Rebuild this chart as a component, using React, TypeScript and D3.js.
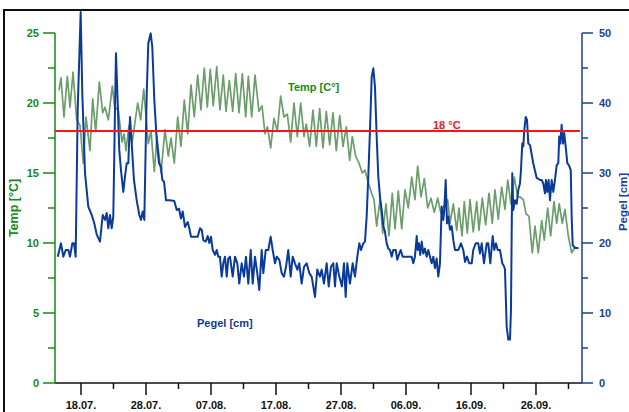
import React from "react";
import * as d3 from "d3";

const START = Date.UTC(2019, 6, 14);
const DAY = 86400000;
const DOMAIN_DAYS = 81.08;

// [days since 14.07., °C]
const temperature: [number, number][] = [
  [0.62,20.9],[0.92,21.8],[1.38,19.0],[1.89,21.9],[2.31,19.7],[2.77,22.2],[3.34,18.8],[3.85,18.4],[4.35,15.7],[4.77,19.0],
  [5.38,16.6],[5.80,20.3],[6.26,17.95],[6.82,21.5],[7.34,19.3],[7.69,19.7],[8.20,18.8],[8.82,21.2],[9.23,19.5],[9.69,19.7],
  [10.31,17.2],[10.62,17.8],[10.92,16.6],[11.38,18.4],[11.85,17.1],[12.72,20.0],[13.18,18.8],[13.65,21.0],[14.35,17.1],[14.77,18.0],
  [15.28,15.1],[15.69,17.6],[16.31,15.0],[16.92,18.1],[17.43,16.2],[17.85,17.5],[18.35,15.7],[18.88,19.0],[19.38,16.9],[19.89,20.2],
  [20.42,17.8],[20.92,21.3],[21.43,19.0],[21.95,22.0],[22.46,19.5],[22.97,22.5],[23.43,19.7],[23.89,22.4],[24.35,19.8],[24.88,22.6],
  [25.38,19.5],[25.89,22.0],[26.31,19.4],[26.82,21.6],[27.34,19.4],[27.80,22.1],[28.31,19.3],[28.82,22.1],[29.34,19.0],[29.74,21.9],
  [30.26,19.0],[30.77,22.0],[31.38,19.4],[31.85,19.8],[32.31,17.8],[32.69,18.3],[33.18,16.8],[33.69,18.9],[34.20,18.0],[34.72,20.5],
  [35.23,19.0],[35.74,19.2],[36.26,17.2],[36.77,20.0],[37.28,17.6],[37.80,20.0],[38.31,17.6],[38.66,18.5],[39.18,16.9],[39.69,19.5],
  [40.20,16.9],[40.72,19.6],[41.23,16.8],[41.74,19.4],[42.26,17.0],[42.77,19.3],[43.28,16.6],[43.80,19.1],[44.31,16.9],[44.82,18.3],
  [45.34,15.9],[45.74,17.6],[46.26,16.2],[46.77,15.7],[47.28,15.0],[47.69,15.2],[48.20,14.3],[48.72,13.55],[49.08,13.1],[49.49,11.2],
  [50.00,13.1],[50.42,10.7],[50.92,12.8],[51.38,10.5],[51.89,13.55],[52.31,11.0],[52.82,13.7],[53.34,11.0],[53.85,13.8],[54.35,12.5],
  [54.88,14.7],[55.38,13.1],[55.80,15.5],[56.31,13.3],[56.82,14.6],[57.34,12.5],[57.85,13.2],[58.35,12.2],[58.88,13.2],[59.38,12.1],
  [59.89,12.7],[60.42,13.1],[60.77,11.4],[61.28,12.8],[61.80,10.9],[62.15,12.5],[62.62,10.5],[62.97,12.95],[63.43,10.7],[63.85,13.1],
  [64.35,10.8],[64.88,12.95],[65.23,10.9],[65.74,13.2],[66.26,11.3],[66.77,13.55],[67.28,11.4],[67.69,13.8],[68.20,11.7],[68.72,14.0],
  [69.23,12.4],[69.65,14.5],[70.15,12.8],[70.66,14.7],[71.18,13.3],[71.54,13.3],[72.05,13.1],[72.46,12.1],[72.92,11.9],[73.43,9.3],
  [73.85,11.2],[74.35,9.3],[74.88,11.6],[75.28,10.2],[75.80,12.5],[76.26,10.5],[76.77,12.95],[77.18,11.4],[77.58,12.8],[78.05,11.4],
  [78.46,12.4],[78.97,10.5],[79.49,9.3],[79.74,9.5],[80.00,9.7],[80.51,9.6]
];

// [days since 14.07., cm]
const pegel: [number, number][] = [
  [0.42,18.05],[0.92,19.95],[1.28,18.05],[1.65,19.0],[2.05,19.0],[2.31,18.05],[2.66,19.95],[2.92,19.95],[3.18,18.05],[3.49,39.0],
  [3.95,53.0],[4.2,41.4],[4.62,29.95],[5.12,25.2],[5.65,24.0],[6.05,22.8],[6.42,21.2],[6.92,20.2],[7.34,24.0],[7.69,23.3],
  [7.95,24.3],[8.2,22.1],[8.46,24.0],[8.72,22.1],[8.97,23.8],[9.23,39.0],[9.38,47.1],[9.65,39.9],[9.89,33.3],[10.15,30.4],
  [10.51,27.3],[10.77,29.5],[11.03,31.4],[11.28,31.4],[11.54,38.0],[11.8,34.2],[12.15,29.0],[12.57,26.1],[12.97,24.0],[13.23,23.3],
  [13.49,24.5],[13.74,23.3],[14.11,41.4],[14.35,48.5],[14.72,49.95],[14.97,48.0],[15.28,40.4],[15.65,34.7],[16.0,31.4],[16.31,30.9],
  [16.51,29.0],[16.77,28.8],[17.08,26.1],[17.69,26.1],[18.35,26.0],[18.72,24.7],[19.08,24.9],[19.38,23.5],[19.65,24.5],[20.0,22.3],
  [20.42,23.0],[20.66,22.1],[20.92,20.9],[21.54,20.9],[21.95,20.9],[22.31,22.1],[22.57,21.9],[22.82,20.4],[23.18,20.2],[23.49,21.0],
  [23.74,20.0],[24.0,20.9],[24.26,19.0],[24.62,18.3],[24.88,19.0],[25.12,18.05],[25.38,18.05],[25.65,15.2],[25.89,17.1],[26.15,18.05],
  [26.42,15.2],[26.66,17.8],[26.92,18.05],[27.34,15.2],[27.69,18.05],[28.05,17.1],[28.35,14.2],[28.72,17.1],[29.08,15.2],[29.38,18.05],
  [29.74,14.2],[30.11,19.0],[30.42,14.2],[30.77,18.05],[31.12,15.7],[31.43,13.3],[31.8,19.0],[32.05,15.7],[32.42,19.0],[32.82,19.0],
  [33.18,20.9],[33.49,19.0],[33.85,17.1],[34.11,18.05],[34.51,17.6],[34.88,15.7],[35.23,15.2],[35.54,16.6],[35.89,19.0],[36.26,15.2],
  [36.57,18.05],[36.92,17.1],[37.28,16.2],[37.58,17.1],[37.95,14.2],[38.31,16.6],[38.72,17.1],[39.12,15.7],[39.49,15.2],[40.0,12.3],
  [40.35,16.2],[40.77,15.2],[41.03,16.2],[41.38,14.2],[41.8,17.1],[42.11,13.8],[42.46,16.6],[42.82,17.1],[43.08,13.8],[43.34,17.1],
  [43.74,15.2],[44.15,13.8],[44.46,17.1],[44.72,12.3],[44.97,17.1],[45.38,14.2],[45.8,17.1],[46.15,15.2],[46.51,18.05],[46.82,19.95],
  [47.08,19.0],[47.43,19.95],[47.69,20.2],[47.95,23.8],[48.2,29.5],[48.46,36.1],[48.72,43.7],[48.97,44.95],[49.23,42.3],[49.49,35.2],
  [49.74,29.5],[50.0,26.6],[50.26,24.7],[50.51,22.4],[50.77,21.6],[51.03,19.95],[51.28,19.2],[51.54,19.0],[51.8,18.05],[52.05,19.0],
  [52.42,19.0],[52.66,17.6],[52.97,18.5],[53.18,19.0],[53.49,18.05],[54.88,18.05],[55.12,17.1],[55.38,18.05],[55.65,21.0],[55.8,19.0],
  [56.0,19.95],[56.2,18.3],[56.42,20.2],[56.66,18.5],[56.92,19.2],[57.18,18.05],[57.43,19.0],[57.69,18.05],[57.95,17.1],[58.2,18.05],
  [58.46,16.4],[58.72,17.8],[58.97,15.2],[59.23,17.1],[59.49,25.2],[59.74,23.3],[59.89,24.7],[60.11,29.0],[60.31,22.8],[60.51,23.8],
  [60.77,21.9],[61.03,22.4],[61.28,20.4],[61.54,19.0],[62.05,19.0],[62.46,19.95],[62.82,19.0],[63.08,17.3],[63.38,18.05],[63.74,17.1],
  [64.11,17.1],[64.35,19.0],[64.72,19.95],[65.12,19.95],[65.38,18.5],[65.65,19.95],[66.0,17.1],[66.42,19.95],[66.66,19.95],[66.97,17.1],
  [67.34,21.0],[67.58,19.0],[67.85,19.95],[68.11,19.0],[68.46,19.0],[68.82,17.1],[69.12,16.6],[69.23,16.2],[69.49,8.05],[69.74,6.2],
  [70.0,6.2],[70.15,10.4],[70.35,29.95],[70.51,24.7],[70.77,26.1],[71.03,25.6],[71.28,27.6],[71.54,28.5],[71.69,30.4],[71.89,34.2],
  [72.05,33.8],[72.2,36.1],[72.42,38.0],[72.62,37.6],[72.82,34.2],[73.08,34.0],[73.58,31.4],[74.11,29.3],[74.62,29.0],[74.88,29.0],
  [75.12,28.5],[75.38,27.1],[75.54,29.0],[75.74,27.3],[75.95,29.0],[76.15,26.1],[76.42,29.0],[76.66,27.3],[76.92,29.0],[77.18,31.1],
  [77.43,31.4],[77.58,35.2],[77.74,34.2],[77.95,36.9],[78.15,34.2],[78.35,35.7],[78.62,33.3],[78.82,31.4],[79.08,31.1],[79.35,30.4],
  [79.49,23.8],[79.65,19.7],[80.0,19.3],[80.51,19.3]
];

const xTickLabels = ["18.07.", "28.07.", "07.08.", "17.08.", "27.08.", "06.09.", "16.09.", "26.09."];
const tempTicks = [0, 5, 10, 15, 20, 25];
const pegelTicks = [0, 10, 20, 30, 40, 50];
const thresholdTemp = 18;
const thresholdLabel = "18 °C";

const GREEN = "#168a16";
const TEMP_LINE = "#6b9e6b";
const BLUE = "#0a3a9c";
const BLUE_AXIS = "#1a3f9a";
const RED = "#ff1414";
const FONT = "'Liberation Sans', Arial, sans-serif";

export default function App() {
  const W = 629, H = 412;
  const x0 = 55, x1 = 582, yTop = 33, yBot = 383;
  const toDate = (d: number) => new Date(START + d * DAY);
  const x = d3.scaleUtc().domain([toDate(0), toDate(DOMAIN_DAYS)]).range([x0, x1]);
  const yT = d3.scaleLinear().domain([0, 25]).range([yBot, yTop]);
  const yP = d3.scaleLinear().domain([0, 50]).range([yBot, yTop]);

  const tempLine = d3.line<[number, number]>().x(d => x(toDate(d[0]))).y(d => yT(d[1]));
  const pegelLine = d3.line<[number, number]>().x(d => x(toDate(d[0]))).y(d => yP(d[1]));

  const majorDates = xTickLabels.map(l => {
    const [dd, mm] = l.split(".").map(Number);
    return new Date(Date.UTC(2019, mm - 1, dd));
  });
  const minorDates = majorDates.map(d => d3.utcDay.offset(d, 5)).filter(d => x(d) < x1);

  const tMinor = d3.range(0, 25, 2.5).filter(v => !tempTicks.includes(v));
  const pMinor = d3.range(0, 50, 5).filter(v => !pegelTicks.includes(v));

  return (
    <svg width={W} height={H} style={{ position: "absolute", left: 0, top: 0, background: "#fff" }} fontFamily={FONT} fontWeight="bold">
      <rect x={4} y={10} width={700} height={500} fill="none" stroke="#111" strokeWidth={2} />
      {/* x axis */}
      <line x1={x0} x2={x1} y1={yBot} y2={yBot} stroke="#111" strokeWidth={1.5} />
      {majorDates.map((d, i) => (
        <g key={"xm" + i}>
          <line x1={x(d)} x2={x(d)} y1={yBot} y2={yBot + 12} stroke="#111" strokeWidth={1.5} />
          <text x={x(d)} y={409} textAnchor="middle" fontSize={11} fill="#111">{xTickLabels[i]}</text>
        </g>
      ))}
      {minorDates.map((d, i) => (
        <line key={"xn" + i} x1={x(d)} x2={x(d)} y1={yBot} y2={yBot + 6} stroke="#111" strokeWidth={1.5} />
      ))}
      {/* left axis */}
      <line x1={x0} x2={x0} y1={yTop} y2={yBot} stroke={GREEN} strokeWidth={1.5} />
      {tempTicks.map(v => (
        <g key={"t" + v}>
          <line x1={x0 - 12} x2={x0} y1={yT(v)} y2={yT(v)} stroke={GREEN} strokeWidth={1.5} />
          <text x={39} y={yT(v)} dy="0.35em" textAnchor="end" fontSize={11} fill={GREEN}>{v}</text>
        </g>
      ))}
      {tMinor.map(v => (
        <line key={"tm" + v} x1={x0 - 7} x2={x0} y1={yT(v)} y2={yT(v)} stroke={GREEN} strokeWidth={1.5} />
      ))}
      <text transform="translate(18,208) rotate(-90)" textAnchor="middle" fontSize={12.5} fill={GREEN}>Temp [°C]</text>
      {/* right axis */}
      <line x1={x1} x2={x1} y1={yTop} y2={yBot} stroke={BLUE_AXIS} strokeWidth={1.5} />
      {pegelTicks.map(v => (
        <g key={"p" + v}>
          <line x1={x1} x2={x1 + 11} y1={yP(v)} y2={yP(v)} stroke={BLUE_AXIS} strokeWidth={1.5} />
          <text x={599} y={yP(v)} dy="0.35em" textAnchor="start" fontSize={11} fill={BLUE_AXIS}>{v}</text>
        </g>
      ))}
      {pMinor.map(v => (
        <line key={"pm" + v} x1={x1} x2={x1 + 6} y1={yP(v)} y2={yP(v)} stroke={BLUE_AXIS} strokeWidth={1.5} />
      ))}
      <text transform="translate(627,202) rotate(-90)" textAnchor="middle" fontSize={11.5} fill={BLUE_AXIS}>Pegel [cm]</text>
      {/* series */}
      <path d={tempLine(temperature) || ""} fill="none" stroke={TEMP_LINE} strokeWidth={1.7} strokeLinejoin="round" />
      <path d={pegelLine(pegel) || ""} fill="none" stroke={BLUE} strokeWidth={2} strokeLinejoin="round" />
      <line x1={x0} x2={x1 - 2} y1={yT(thresholdTemp)} y2={yT(thresholdTemp)} stroke={RED} strokeWidth={2} />
      {/* labels */}
      <text x={288} y={91} fontSize={11} fill={GREEN}>Temp [C°]</text>
      <text x={433} y={129} fontSize={11} fill={RED}>{thresholdLabel}</text>
      <text x={197} y={327} fontSize={11} fill={BLUE}>Pegel [cm]</text>
    </svg>
  );
}
